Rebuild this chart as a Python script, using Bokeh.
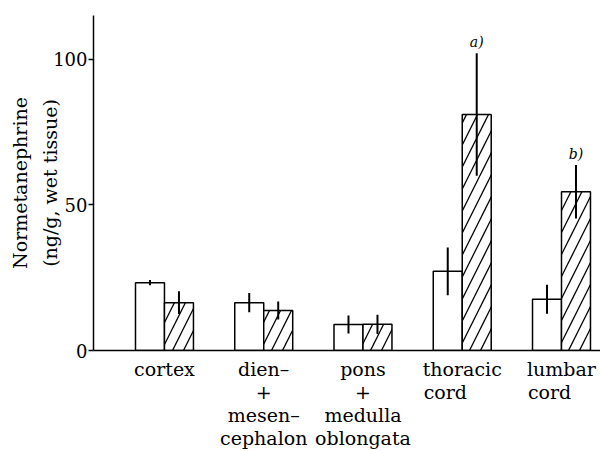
from bokeh.plotting import figure
from bokeh.models import Label, FixedTicker, LinearAxis
from bokeh.embed import file_html
from bokeh.resources import INLINE

# ---- data ----
regions = ["cortex", "dien+mesencephalon", "pons+medulla oblongata", "thoracic cord", "lumbar cord"]
row1 = ["cortex", "dien\u2013", "pons", "thoracic", "lumbar"]
row2 = ["", "+", "+", "cord", "cord"]
row3 = ["", "mesen\u2013", "medulla", "", ""]
row4 = ["", "cephalon", "oblongata", "", ""]
control = [23.3, 16.4, 8.9, 27.2, 17.6]
control_err = [0.9, 3.3, 3.1, 8.2, 5.0]
treated = [16.4, 13.7, 9.0, 81.0, 54.5]
treated_err = [3.9, 3.1, 3.3, 21.0, 9.2]
notes = ["", "", "", "a)", "b)"]
y_ticks = [0, 50, 100]
y_title = ["Normetanephrine", "(ng/g, wet tissue)"]

FONT = "DejaVu Serif"
FS = "19px"
BAR_W = 0.292
# left shift (in category units) that left-aligns the second word with the first one
row2_shift = [0, 0, 0, -0.17, -0.12]

p = figure(width=600, height=451, x_range=(-0.715, 4.393), y_range=(0, 115),
           output_backend="svg", toolbar_location=None,
           min_border_left=93, min_border_right=0, min_border_top=15, min_border_bottom=100)
p.outline_line_color = None
p.xgrid.visible = False
p.ygrid.visible = False
p.background_fill_color = "white"
p.border_fill_color = "white"

idx = list(range(len(regions)))
x_c = [i - BAR_W / 2 for i in idx]
x_t = [i + BAR_W / 2 for i in idx]

p.vbar(x=x_c, top=control, width=BAR_W, bottom=0, fill_color="white",
       line_color="black", line_width=1.5)
p.vbar(x=x_t, top=treated, width=BAR_W, bottom=0, fill_color="white",
       line_color="black", line_width=1.5, hatch_pattern="/", hatch_color="black",
       hatch_scale=22, hatch_weight=1.3)

p.segment(x0=x_c, x1=x_c, y0=[v - e for v, e in zip(control, control_err)],
          y1=[v + e for v, e in zip(control, control_err)], line_color="black", line_width=2)
p.segment(x0=x_t, x1=x_t, y0=[v - e for v, e in zip(treated, treated_err)],
          y1=[v + e for v, e in zip(treated, treated_err)], line_color="black", line_width=2)

# ---- y axis ----
ya = p.yaxis[0]
ya.ticker = FixedTicker(ticks=y_ticks)
ya.minor_tick_line_color = None
ya.major_tick_in = 0
ya.major_tick_out = 5
ya.major_tick_line_width = 1.5
ya.axis_line_width = 1.5
ya.major_label_text_font = FONT
ya.major_label_text_font_size = "18px"
ya.major_label_text_color = "black"
ya.major_label_standoff = 1
ya.axis_label = y_title[1]
ya.axis_label_text_font = FONT
ya.axis_label_text_font_size = FS
ya.axis_label_text_font_style = "normal"
ya.axis_label_text_color = "black"
ya.axis_label_standoff = -11

ya2 = LinearAxis(ticker=FixedTicker(ticks=[]), axis_line_color=None,
                 major_tick_line_color=None, minor_tick_line_color=None,
                 major_tick_in=0, major_tick_out=0, minor_tick_in=0, minor_tick_out=0,
                 axis_label=y_title[0], axis_label_text_font=FONT,
                 axis_label_text_font_size=FS, axis_label_text_font_style="normal",
                 axis_label_text_color="black", axis_label_standoff=6)
p.add_layout(ya2, "left")


# ---- x axis: baseline + rows of category labels ----
def setup_row(ax, labels, shift, standoff):
    ticks = [i + s for i, s, t in zip(idx, shift, labels) if t]
    texts = [t for t in labels if t]
    ax.ticker = FixedTicker(ticks=ticks)
    ax.major_label_overrides = {tk: t for tk, t in zip(ticks, texts)}
    ax.major_tick_line_color = None
    ax.minor_tick_line_color = None
    ax.major_tick_in = 0
    ax.major_tick_out = 0
    ax.minor_tick_in = 0
    ax.minor_tick_out = 0
    ax.major_label_text_font = FONT
    ax.major_label_text_font_size = FS
    ax.major_label_text_color = "black"
    ax.major_label_standoff = standoff


xa = p.xaxis[0]
xa.axis_line_width = 1.5
setup_row(xa, row1, [0] * 5, 7)

for labels, shift in [(row2, row2_shift), (row3, [0] * 5), (row4, [0] * 5)]:
    ax = LinearAxis(axis_line_color=None)
    setup_row(ax, labels, shift, -2)
    p.add_layout(ax, "below")

# significance notes
for i, n in enumerate(notes):
    if n:
        p.add_layout(Label(x=x_t[i], y=treated[i] + treated_err[i], text=n, y_offset=3,
                           text_align="center", text_baseline="bottom",
                           text_font=FONT, text_font_style="italic", text_font_size="14px",
                           text_color="black"))

open("out.html", "w").write(file_html(p, INLINE))
